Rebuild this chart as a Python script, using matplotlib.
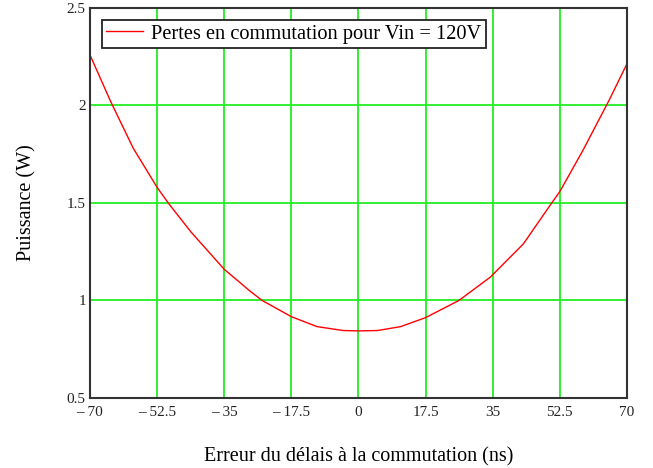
import matplotlib
matplotlib.use("Agg")
import matplotlib.pyplot as plt

# points
erreur_ns = [-70, -64.6, -58.7, -52.5, -49.6, -43.7, -35, -28.2, -25.1, -17.5,
             -10.8, -4, 0, 5, 11, 17.5, 26.2, 34.4, 43, 50.4, 52.5, 58.6, 65.4, 70]
puissance_w = [2.259, 2.02, 1.78, 1.58, 1.5, 1.352, 1.16, 1.047, 1.0, 0.917,
               0.866, 0.846, 0.844, 0.846, 0.866, 0.912, 1.0, 1.12, 1.29, 1.5,
               1.558, 1.772, 2.028, 2.213]

xticks = [-70, -52.5, -35, -17.5, 0, 17.5, 35, 52.5, 70]
xtick_labels = ["\u2013 70", "\u2013 52.5", "\u2013 35", "\u2013 17.5", "0",
                "17.5", "35", "52.5", "70"]
yticks = [0.5, 1, 1.5, 2, 2.5]
ytick_labels = ["0.5", "1", "1.5", "2", "2.5"]

plt.rcParams['font.family'] = ['Liberation Serif', 'DejaVu Serif']

fig = plt.figure(figsize=(6.53, 4.68), dpi=100)
ax = fig.add_axes([0.1378, 0.1496, 0.8222, 0.8334])

ax.plot(erreur_ns, puissance_w, color='#ff0000', lw=1.0,
        label="Pertes en commutation pour Vin = 120V")

ax.set_xlim(-70, 70)
ax.set_ylim(0.5, 2.5)
ax.set_xticks(xticks)
ax.set_xticklabels(xtick_labels)
ax.set_yticks(yticks)
ax.set_yticklabels(ytick_labels)
ax.tick_params(length=0, labelsize=11, colors='#222222')
ax.tick_params(axis='x', pad=6)
ax.tick_params(axis='y', pad=3)
ax.grid(True, color='#22ee22', lw=1.3)
ax.set_axisbelow(True)
for s in ax.spines.values():
    s.set_color('#333333')
    s.set_linewidth(1.5)

ax.set_xlabel("Erreur du délais à la commutation (ns)", fontsize=14.5, labelpad=20)
ax.set_ylabel("Puissance (W)", fontsize=14.5, labelpad=22)

leg = ax.legend(loc='upper left', fontsize=14.7, fancybox=False, framealpha=1,
                edgecolor='#222222', borderaxespad=0.6, handlelength=1.8,
                handletextpad=0.4, borderpad=0.2)
leg.get_frame().set_linewidth(1.3)

fig.savefig("out.png", dpi=100)
